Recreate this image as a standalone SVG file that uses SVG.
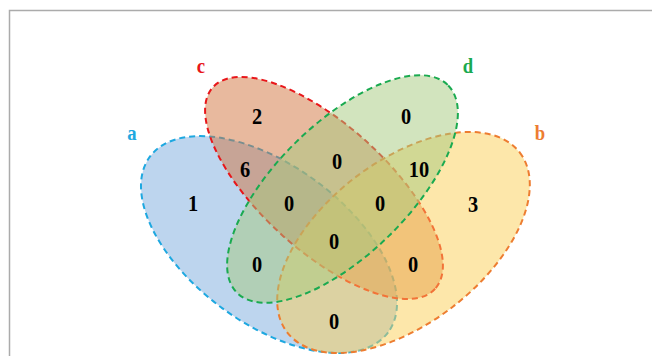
<svg xmlns="http://www.w3.org/2000/svg" width="652" height="356" viewBox="0 0 652 356">
<style>
.set{stroke-width:2;stroke-dasharray:6 4;fill-opacity:0.5}
.num{font-family:"Liberation Serif","Times New Roman",serif;font-weight:bold;font-size:24px;fill:#000;text-anchor:middle}
.lbl{font-family:"Liberation Serif","Times New Roman",serif;font-weight:bold;font-size:22px;text-anchor:middle}
</style>
<rect width="652" height="356" fill="#fff"/>
<path d="M9.5 356 V10.5 H652" fill="none" stroke="#ABABAB" stroke-width="1.5"/>
<g id="set-a"><ellipse class="set" cx="269" cy="244.5" rx="148" ry="79" transform="rotate(36.4 269 244.5)" fill="#7BABDD" stroke="#1EA8E0"/></g>
<g id="set-c"><ellipse class="set" cx="324" cy="188" rx="150" ry="63" transform="rotate(42.2 324 188)" fill="#D1733D" stroke="#E8161A"/></g>
<g id="set-b"><ellipse class="set" cx="403.5" cy="242.5" rx="147" ry="81" transform="rotate(-37.8 403.5 242.5)" fill="#FBCF55" stroke="#ED7D31"/></g>
<g id="set-d"><ellipse class="set" cx="342.5" cy="189" rx="148" ry="66" transform="rotate(-44.4 342.5 189)" fill="#A5C97D" stroke="#1AAA50"/></g>
<g id="labels">
<text class="lbl" transform="translate(132,140) scale(0.85,1)" fill="#1EA8E0">a</text>
<text class="lbl" transform="translate(201,73) scale(0.85,1)" fill="#E8161A">c</text>
<text class="lbl" transform="translate(468,73) scale(0.85,1)" fill="#1AAA50">d</text>
<text class="lbl" transform="translate(540,140) scale(0.85,1)" fill="#ED7D31">b</text>
</g>
<g id="counts">
<text class="num" transform="translate(257,124) scale(0.85,1)">2</text>
<text class="num" transform="translate(406,124) scale(0.85,1)">0</text>
<text class="num" transform="translate(245,177) scale(0.85,1)">6</text>
<text class="num" transform="translate(337,169) scale(0.85,1)">0</text>
<text class="num" transform="translate(419,177) scale(0.85,1)">10</text>
<text class="num" transform="translate(193,211) scale(0.85,1)">1</text>
<text class="num" transform="translate(289,211) scale(0.85,1)">0</text>
<text class="num" transform="translate(380,211) scale(0.85,1)">0</text>
<text class="num" transform="translate(473,212) scale(0.85,1)">3</text>
<text class="num" transform="translate(334,249) scale(0.85,1)">0</text>
<text class="num" transform="translate(257,272) scale(0.85,1)">0</text>
<text class="num" transform="translate(413,272) scale(0.85,1)">0</text>
<text class="num" transform="translate(334,329) scale(0.85,1)">0</text>
</g>
</svg>
